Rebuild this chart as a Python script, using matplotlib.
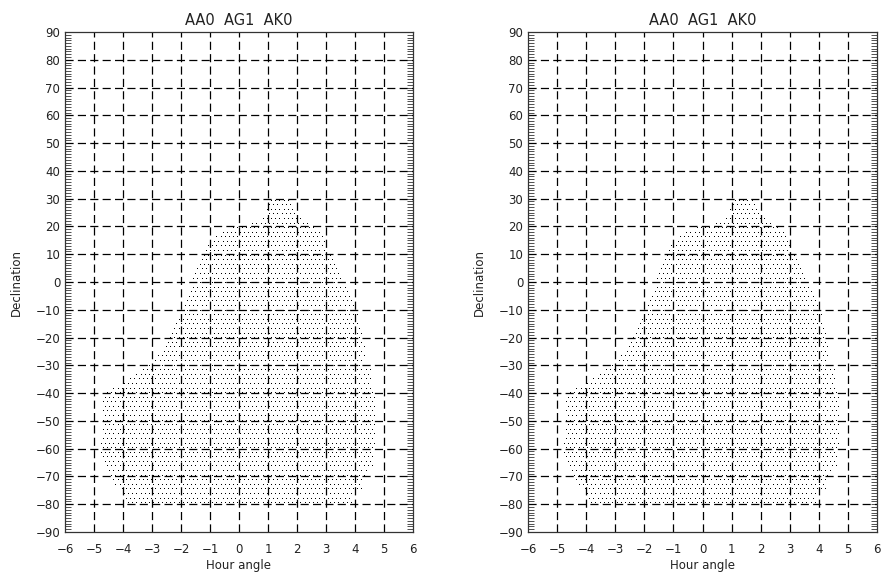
import numpy as np
import matplotlib
matplotlib.use("Agg")
import matplotlib.pyplot as plt
from matplotlib.ticker import MultipleLocator

title = "AA0  AG1  AK0"
xlabel = "Hour angle"
ylabel = "Declination"
xticks = list(range(-6, 7))
yticks = list(range(-90, 91, 10))

# boundary of the observable (dotted) region
dec_left = [-80, -77.5, -75, -72.5, -70, -67, -65, -60, -57, -42, -40, -37.5, -35, -32, -30,
            -28, -25, -20, -15, -10, -5, 0, 5, 10, 12, 16, 18, 20, 21, 23, 27, 30]
ha_left = [-3.83, -3.93, -4.1, -4.34, -4.5, -4.58, -4.74, -4.83, -4.76, -4.74, -4.65, -4.22, -3.83,
           -3.41, -3.18, -2.95, -2.67, -2.45, -2.2, -1.98, -1.8, -1.63, -1.45, -1.28, -1.2, -0.9,
           -0.6, -0.2, 0.3, 0.9, 0.95, 1.0]
dec_right = [-80, -76, -75, -72, -70, -68, -66, -60, -58, -50, -48, -40, -39, -31, -29, -24.5,
             -16, -11, -6.5, -1.7, 2.5, 7, 10, 12, 16, 19, 21, 24, 27, 30]
ha_right = [3.88, 3.88, 4.28, 4.28, 4.4, 4.45, 4.62, 4.62, 4.72, 4.72, 4.69, 4.69, 4.6, 4.52,
            4.36, 4.34, 4.2, 4.07, 3.94, 3.71, 3.54, 3.31, 3.14, 3.0, 2.97, 2.7, 2.35, 2.05,
            1.9, 1.75]

W, H = 882, 578
fig = plt.figure(figsize=(W / 100, H / 100), dpi=100)
plt.rcParams['font.family'] = ['DejaVu Sans']

panels = [(65, 413), (528, 877)]
top_px, bot_px = 32, 532


def dots():
    xs, ys = [], []
    step_y = 1.65
    step_x = 0.145
    row = 0
    d = -79.6
    while d <= 30.2:
        lo = np.interp(d, dec_left, ha_left)
        hi = np.interp(d, dec_right, ha_right)
        off = (row % 2) * step_x / 2
        h = -6 + off
        while h <= 6:
            if lo <= h <= hi:
                xs.append(h)
                ys.append(d)
            h += step_x
        d += step_y
        row += 1
    return np.array(xs), np.array(ys)


dx, dy = dots()

for (l, r) in panels:
    ax = fig.add_axes([l / W, 1 - bot_px / H, (r - l) / W, (bot_px - top_px) / H])
    ax.set_xlim(-6, 6)
    ax.set_ylim(-90, 90)
    ax.plot(dx, dy, ',', color='black', zorder=1)
    for x in range(-5, 6):
        ax.axvline(x, color='black', lw=0.9, ls=(0, (6.5, 3.4)), zorder=2)
    for y in range(-80, 81, 10):
        ax.axhline(y, color='black', lw=0.9, ls=(0, (6.5, 3.4)), zorder=2)
    ax.set_xticks(xticks)
    ax.set_yticks(yticks)
    ax.yaxis.set_minor_locator(MultipleLocator(1))
    ax.tick_params(axis='x', length=0, labelsize=8.5, pad=8, colors='#333333')
    ax.tick_params(axis='y', which='both', direction='in', length=4.5, width=0.6,
                   left=True, right=True, labelsize=8.5, colors='#333333')
    ax.tick_params(axis='y', labelcolor='#222222')
    ax.tick_params(axis='x', labelcolor='#222222')
    for s in ax.spines.values():
        s.set_linewidth(0.9)
        s.set_color('#333333')
    ax.set_title(title, fontsize=10.5, color='#222222', pad=5)
    ax.set_xlabel(xlabel, fontsize=8.5, color='#222222', labelpad=2)
    ax.set_ylabel(ylabel, fontsize=8.5, color='#222222', labelpad=9)

fig.savefig("out.png", dpi=100)
